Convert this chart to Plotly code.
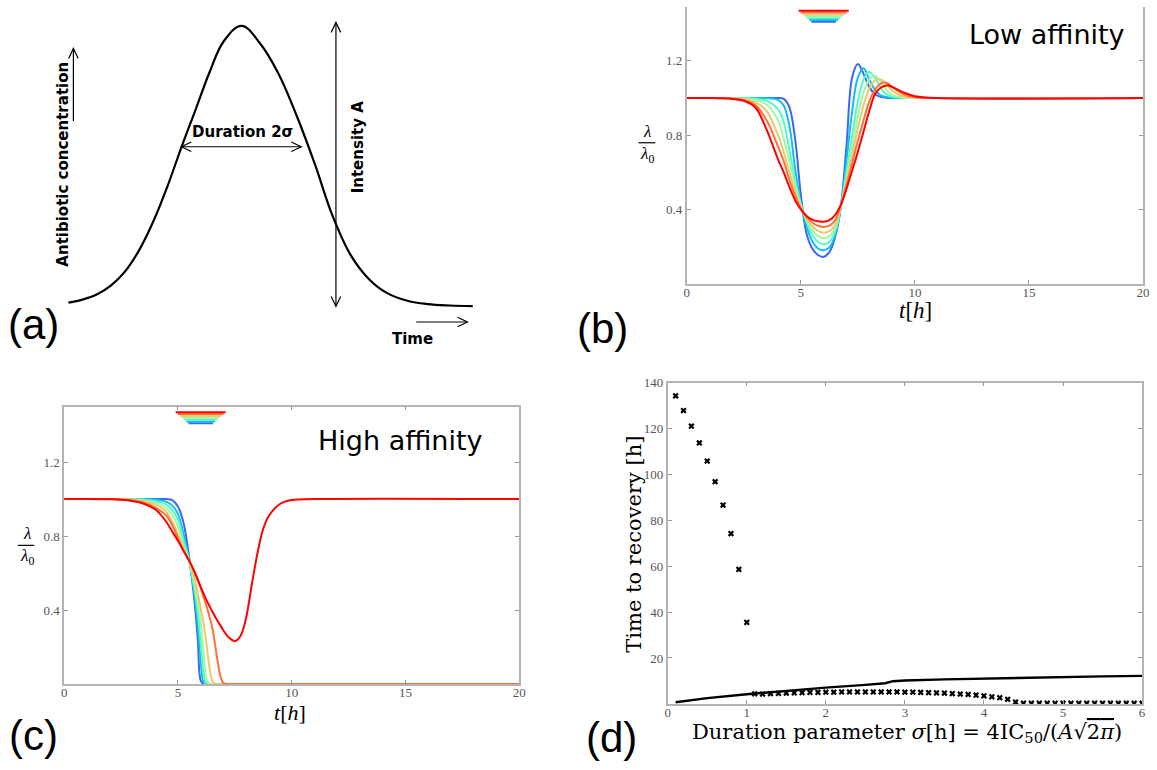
import math
import plotly.graph_objects as go

W, H = 1157, 770

# ---------------- (a) schematic antibiotic pulse ----------------
PULSE_T = [0, 0.35, 0.7, 1.05, 1.4, 1.75, 2.1, 2.45, 2.8, 3.15, 3.5, 3.85, 4.29,
           4.75, 5.2, 5.66, 6.11, 6.55, 7.0, 7.45, 7.9, 8.4, 8.9, 9.45, 10.02]
PULSE_C = [0.011, 0.022, 0.04, 0.072, 0.122, 0.198, 0.3, 0.425, 0.566, 0.7, 0.835, 0.945, 1.0,
           0.937, 0.831, 0.678, 0.505, 0.32, 0.18, 0.095, 0.045, 0.018, 0.006, 0.001, -0.001]

# ---------------- (b) low affinity: growth rate lambda/lambda0 ----------------
B_T = [0, 1, 2, 2.5, 3, 3.5, 4, 4.25, 4.5, 4.75, 5, 5.25, 5.5, 5.75, 6, 6.25, 6.5,
       6.75, 7, 7.25, 7.5, 7.75, 8, 8.25, 8.5, 8.75, 9, 9.5, 10, 11, 20]
LOW_1 = [1, 1, 1, 1, 1, 1, 1, 0.995, 0.95, 0.78, 0.48, 0.27, 0.19, 0.155, 0.145, 0.17,
         0.25, 0.41, 0.74, 1.11, 1.183, 1.13, 1.06, 1.02, 1.006, 1.002, 1, 1, 1, 1, 1]
LOW_2 = [1, 1, 1, 1, 1, 0.999, 0.99, 0.96, 0.85, 0.62, 0.43, 0.31, 0.23, 0.19, 0.181, 0.195,
         0.26, 0.41, 0.66, 0.93, 1.11, 1.16, 1.1, 1.045, 1.015, 1.005, 1.001, 1, 1, 1, 1]
LOW_3 = [1, 1, 1, 0.999, 0.996, 0.985, 0.94, 0.87, 0.72, 0.56, 0.43, 0.335, 0.265, 0.225, 0.213,
         0.225, 0.28, 0.41, 0.6, 0.8, 0.98, 1.1, 1.14, 1.11, 1.055, 1.02, 1.007, 1.001, 1, 1, 1]
LOW_4 = [1, 1, 0.999, 0.997, 0.99, 0.965, 0.88, 0.78, 0.66, 0.53, 0.42, 0.345, 0.29, 0.258, 0.245,
         0.255, 0.3, 0.415, 0.57, 0.74, 0.9, 1.03, 1.1, 1.12, 1.09, 1.045, 1.017, 1.002, 1, 1, 1]
LOW_5 = [1, 1, 0.998, 0.993, 0.978, 0.93, 0.8, 0.71, 0.6, 0.5, 0.41, 0.35, 0.31, 0.285, 0.275,
         0.283, 0.315, 0.415, 0.55, 0.69, 0.84, 0.96, 1.05, 1.095, 1.1, 1.075, 1.04, 1.008, 1.001, 1, 1]
LOW_6 = [1, 1, 0.997, 0.99, 0.963, 0.88, 0.74, 0.66, 0.56, 0.475, 0.405, 0.36, 0.33, 0.312, 0.306,
         0.313, 0.34, 0.42, 0.53, 0.65, 0.77, 0.88, 0.98, 1.045, 1.078, 1.082, 1.06, 1.02, 1.004, 1, 1]
LOW_7 = [1, 1, 0.995, 0.985, 0.95, 0.83, 0.67, 0.6, 0.52, 0.45, 0.4, 0.365, 0.345, 0.336, 0.334,
         0.343, 0.37, 0.425, 0.51, 0.61, 0.71, 0.82, 0.93, 1.02, 1.055, 1.068, 1.06, 1.03, 1.01, 1, 1]

# ---------------- (c) high affinity ----------------
C_T = [0, 1, 2, 2.5, 3, 3.5, 4, 4.25, 4.5, 4.75, 5, 5.25, 5.5, 5.625, 5.75, 5.875, 6, 6.125,
       6.25, 6.375, 6.5, 6.625, 6.75, 6.875, 7, 7.25, 7.5, 7.75, 8, 8.25, 8.5, 8.75, 9, 9.5,
       10, 11, 20]
HIGH_1 = [1, 1, 1, 1, 1, 1, 1, 1, 1, 0.995, 0.96, 0.87, 0.68, 0.56, 0.42, 0.24, 0.02,
          0, 0, 0, 0, 0, 0, 0, 0, 0, 0, 0, 0, 0, 0, 0, 0, 0, 0, 0, 0]
HIGH_2 = [1, 1, 1, 1, 1, 1, 0.997, 0.993, 0.985, 0.965, 0.92, 0.81, 0.672, 0.575, 0.46, 0.31, 0.13, 0.01,
          0, 0, 0, 0, 0, 0, 0, 0, 0, 0, 0, 0, 0, 0, 0, 0, 0, 0, 0]
HIGH_3 = [1, 1, 1, 1, 0.999, 0.997, 0.99, 0.983, 0.97, 0.94, 0.89, 0.775, 0.668, 0.585, 0.495, 0.385,
          0.23, 0.06, 0.003,
          0, 0, 0, 0, 0, 0, 0, 0, 0, 0, 0, 0, 0, 0, 0, 0, 0, 0]
HIGH_4 = [1, 1, 1, 1, 0.998, 0.993, 0.98, 0.97, 0.95, 0.915, 0.85, 0.745, 0.666, 0.6, 0.525, 0.44,
          0.34, 0.17, 0.03, 0.002,
          0, 0, 0, 0, 0, 0, 0, 0, 0, 0, 0, 0, 0, 0, 0, 0, 0]
HIGH_5 = [1, 1, 1, 0.999, 0.996, 0.988, 0.97, 0.955, 0.93, 0.88, 0.81, 0.73, 0.667, 0.62, 0.56, 0.49,
          0.41, 0.33, 0.22, 0.1, 0.02, 0.002,
          0, 0, 0, 0, 0, 0, 0, 0, 0, 0, 0, 0, 0, 0, 0]
HIGH_6 = [1, 1, 1, 0.998, 0.993, 0.98, 0.955, 0.935, 0.91, 0.86, 0.79, 0.72, 0.667, 0.635, 0.6, 0.56,
          0.52, 0.47, 0.425, 0.37, 0.31, 0.22, 0.12, 0.04, 0.005,
          0, 0, 0, 0, 0, 0, 0, 0, 0, 0, 0, 0]
HIGH_7 = [1, 1, 0.999, 0.997, 0.99, 0.975, 0.945, 0.915, 0.875, 0.825, 0.775, 0.72, 0.665, 0.635, 0.6,
          0.565, 0.525, 0.49, 0.455, 0.425, 0.395, 0.367, 0.34, 0.315, 0.29, 0.25, 0.232, 0.26, 0.36,
          0.54, 0.71, 0.84, 0.91, 0.975, 0.995, 1, 1]

# antibiotic pulses (shown as stacked bars above the curves)
PULSE_LEVEL = [1.41, 1.42, 1.43, 1.44, 1.45, 1.46, 1.47]
PULSE_START = [5.46, 5.37, 5.27, 5.18, 5.09, 4.99, 4.90]
PULSE_END = [6.54, 6.63, 6.73, 6.82, 6.91, 7.01, 7.10]

# rainbow colour per pulse duration (shortest -> longest)
COLORS = ["#3d65fa", "#0dc2e8", "#57f7c9", "#a1faa1", "#ebc970", "#ff703a", "#ff0000"]

# ---------------- (d) time to recovery ----------------
D_SIGMA_SLOW = [0.1, 0.2, 0.3, 0.4, 0.5, 0.6, 0.7, 0.8, 0.9, 1.0]
D_TIME_SLOW = [134.2, 127.8, 121.0, 113.7, 105.8, 96.8, 86.6, 74.2, 58.6, 35.5]
D_SIGMA_FAST = [1.1, 1.2, 1.3, 1.4, 1.5, 1.6, 1.7, 1.8, 1.9, 2.0,
                2.1, 2.2, 2.3, 2.4, 2.5, 2.6, 2.7, 2.8, 2.9, 3.0,
                3.1, 3.2, 3.3, 3.4, 3.5, 3.6, 3.7, 3.8, 3.9, 4.0,
                4.1, 4.2, 4.3, 4.4, 4.5, 4.6, 4.7, 4.8, 4.9, 5.0,
                5.1, 5.2, 5.3, 5.4, 5.5, 5.6, 5.7, 5.8, 5.9, 6.0]
D_TIME_FAST = [4.4, 4.3, 4.5, 4.6, 4.7, 4.8, 4.9, 5.0, 5.0, 5.1,
               5.1, 5.2, 5.2, 5.2, 5.2, 5.2, 5.2, 5.2, 5.2, 5.1,
               5.1, 5.0, 4.9, 4.8, 4.7, 4.5, 4.3, 4.1, 3.8, 3.5,
               3.1, 2.7, 2.0, 0.8, 0.3, 0.3, 0.3, 0.3, 0.3, 0.3,
               0.3, 0.3, 0.3, 0.3, 0.3, 0.3, 0.3, 0.3, 0.3, 0.3]
D_LINE_SIGMA = [0.1, 0.5, 1.0, 1.5, 2.0, 2.5, 2.75, 2.85, 3.0, 3.5, 4.0, 4.5, 5.0, 5.5, 6.0]
D_LINE_TIME = [0.7, 2.5, 4.2, 5.7, 7.1, 8.3, 9.0, 9.9, 10.2, 10.7, 11.1, 11.4, 11.7, 12.0, 12.2]

LOW_CURVES = [LOW_1, LOW_2, LOW_3, LOW_4, LOW_5, LOW_6, LOW_7]
HIGH_CURVES = [HIGH_1, HIGH_2, HIGH_3, HIGH_4, HIGH_5, HIGH_6, HIGH_7]


def fx(p):
    """pixel column -> paper x"""
    return p / W


def fy(p):
    """pixel row -> paper y"""
    return 1 - p / H


fig = go.Figure()

# (a) pulse curve
fig.add_trace(go.Scatter(x=PULSE_T, y=PULSE_C, mode="lines", xaxis="x", yaxis="y",
                         line=dict(color="black", width=2.2, shape="spline", smoothing=1.1),
                         showlegend=False, hoverinfo="skip"))

# (b) and (c) growth-rate curves plus pulse bars
for axes, t, curves in (("2", B_T, LOW_CURVES), ("3", C_T, HIGH_CURVES)):
    for col, vals in zip(COLORS, curves):
        fig.add_trace(go.Scatter(x=t, y=vals, mode="lines", xaxis="x" + axes, yaxis="y" + axes,
                                 line=dict(color=col, width=2, shape="spline", smoothing=1.0),
                                 showlegend=False, hoverinfo="skip"))
    for col, lev, t0, t1 in zip(COLORS, PULSE_LEVEL, PULSE_START, PULSE_END):
        fig.add_trace(go.Scatter(x=[t0, t1], y=[lev, lev], mode="lines",
                                 xaxis="x" + axes, yaxis="y" + axes,
                                 line=dict(color=col, width=2),
                                 showlegend=False, hoverinfo="skip"))

# (d) recovery times
fig.add_trace(go.Scatter(x=D_LINE_SIGMA, y=D_LINE_TIME, mode="lines", xaxis="x4", yaxis="y4",
                         line=dict(color="black", width=2.4), showlegend=False, hoverinfo="skip"))
fig.add_trace(go.Scatter(x=D_SIGMA_SLOW + D_SIGMA_FAST, y=D_TIME_SLOW + D_TIME_FAST,
                         mode="markers", xaxis="x4", yaxis="y4",
                         marker=dict(symbol="x", size=5.5, color="black"),
                         showlegend=False, hoverinfo="skip"))

AX_LINE = "#b4b4b4"
TICK_FONT = dict(family="Liberation Serif", size=13, color="#555555")


def frame_axis(domain, rng, tickvals, anchor, mirror, ticktext=None, standoff=0):
    d = dict(domain=domain, range=rng, anchor=anchor, tickmode="array", tickvals=tickvals,
             ticks="inside", ticklen=4, tickwidth=1, tickcolor="#999999",
             showline=True, linecolor=AX_LINE, linewidth=1.6, mirror=mirror,
             showgrid=False, zeroline=False, tickfont=TICK_FONT, fixedrange=True,
             ticklabelstandoff=standoff)
    if ticktext is not None:
        d["ticktext"] = ticktext
    return d


hidden = dict(visible=False, showgrid=False, zeroline=False, fixedrange=True)

# scale of the schematic panel (a): pixels per unit of time / concentration
PX_T, PX_C = 40.7, 282.5

layout = dict(
    width=W, height=H, autosize=False,
    margin=dict(l=0, r=0, t=0, b=0, pad=0),
    paper_bgcolor="white", plot_bgcolor="white",
    showlegend=False,
    # (a)
    xaxis=dict(hidden, domain=[0, fx(580)], range=[-66 / PX_T, (580 - 66) / PX_T], anchor="y"),
    yaxis=dict(hidden, domain=[fy(360), 1], range=[(301.5 - 360) / PX_C, 301.5 / PX_C], anchor="x"),
    # (b)
    xaxis2=frame_axis([fx(689.7), fx(1150)], [0, 20], [0, 5, 10, 15, 20], "y2", False, standoff=-4),
    yaxis2=frame_axis([fy(279.3), 1], [0, 1.49], [0.4, 0.8, 1.2], "x2", "ticks",
                      ["0.4", "0.8", "1.2"]),
    # (c)
    xaxis3=frame_axis([fx(61.7), fx(520.7)], [0, 20], [0, 5, 10, 15, 20], "y3", "ticks", standoff=-4),
    yaxis3=frame_axis([fy(683.3), fy(403.3)], [0, 1.5], [0.4, 0.8, 1.2], "x3", "ticks",
                      ["0.4", "0.8", "1.2"]),
    # (d)
    xaxis4=frame_axis([fx(670.5), fx(1149)], [0, 6], [0, 1, 2, 3, 4, 5, 6], "y4", "ticks", standoff=-4),
    yaxis4=frame_axis([fy(703.3), fy(379)], [0, 140], [20, 40, 60, 80, 100, 120, 140], "x4", "ticks"),
)
layout["xaxis3"]["layer"] = "below traces"

annotations = []
shapes = []


def label(text, x, y, size, family, angle=0, color="black"):
    annotations.append(dict(text=text, x=fx(x), y=fy(y), xref="paper", yref="paper",
                            showarrow=False, xanchor="center", yanchor="middle",
                            textangle=angle, font=dict(family=family, size=size, color=color)))


def arrow(x0, y0, x1, y1, both=False, head_len=10.0, head_half=4.8):
    """open-headed arrow in the schematic panel, drawn as line + chevron paths"""
    arrow_line = dict(color="black", width=1.2)
    shapes.append(dict(type="line", xref="x", yref="y", x0=x0, y0=y0, x1=x1, y1=y1,
                       line=arrow_line))
    ends = [((x0, y0), (x1, y1))]
    if both:
        ends.append(((x1, y1), (x0, y0)))
    for (bx, by), (tx, ty) in ends:
        dxp, dyp = (tx - bx) * PX_T, (ty - by) * PX_C
        n = math.hypot(dxp, dyp)
        ux, uy = dxp / n, dyp / n
        px_, py_ = -uy, ux
        pts = []
        for s in (1, -1):
            hx = tx + (-head_len * ux + s * head_half * px_) / PX_T
            hy = ty + (-head_len * uy + s * head_half * py_) / PX_C
            pts.append((hx, hy))
        path = f"M{pts[0][0]},{pts[0][1]} L{tx},{ty} L{pts[1][0]},{pts[1][1]}"
        shapes.append(dict(type="path", xref="x", yref="y", path=path, line=arrow_line))


# panel letters
label("(a)", 31, 320, 42, "Liberation Sans")
label("(b)", 605, 324, 42, "Liberation Sans")
label("(c)", 31, 735, 42, "Liberation Sans")
label("(d)", 614, 737, 42, "Liberation Sans")

# (a) schematic labels and arrows
BOLD = "DejaVu Sans"
label("<b>Antibiotic concentration</b>", 59.6, 159, 15, BOLD, angle=-90)
label("<b>Intensity A</b>", 357.7, 141, 15, BOLD, angle=-90)
label("<b>Duration 2σ</b>", 242, 126.5, 15, BOLD)
label("<b>Time</b>", 412.6, 335.5, 15, BOLD)
arrow(0.123, 0.66, 0.123, 0.919)
arrow(6.63, 1.012, 6.63, -0.002, both=True)
arrow(2.80, 0.568, 5.77, 0.568, both=True)
arrow(8.62, -0.058, 9.89, -0.058)

# (b)/(c) titles and axis labels
label("Low affinity", 1053, 27.5, 27, "DejaVu Sans")
label("High affinity", 400, 437.4, 27, "DejaVu Sans")
label("<i>t</i>[<i>h</i>]", 920, 306, 23, "Liberation Serif")
label("<i>t</i>[<i>h</i>]", 290, 712, 22, "Liberation Serif")
# y-axis fraction lambda / lambda_0 (numerator and denominator in one block, bar drawn below)
label("<i>λ</i><br><i>λ</i><sub>0</sub>", 650, 138, 17, "Liberation Serif")
label("<i>λ</i><br><i>λ</i><sub>0</sub>", 24, 544, 17, "Liberation Serif")

# (d) axis labels
label("Time to recovery [h]", 635.6, 542.5, 21, "DejaVu Serif", angle=-90)
label("Duration parameter <i>σ</i>[h] = 4IC<sub>50</sub>/(<i>A</i>√"
      "<span style='text-decoration:overline'>2<i>π</i></span>)",
      912, 733, 21, "DejaVu Serif")

shapes += [
    dict(type="line", xref="paper", yref="paper", x0=fx(641), x1=fx(658), y0=fy(137), y1=fy(137),
         line=dict(color="black", width=1.2)),
    dict(type="line", xref="paper", yref="paper", x0=fx(15), x1=fx(31.5), y0=fy(543.3), y1=fy(543.3),
         line=dict(color="black", width=1.2)),
]

layout["annotations"] = annotations
layout["shapes"] = shapes
fig.update_layout(**layout)

# page without body margin so the figure fills the window exactly
fig.write_html("out.html",
               post_script="document.body.style.margin='0px';document.body.style.overflow='hidden';")
